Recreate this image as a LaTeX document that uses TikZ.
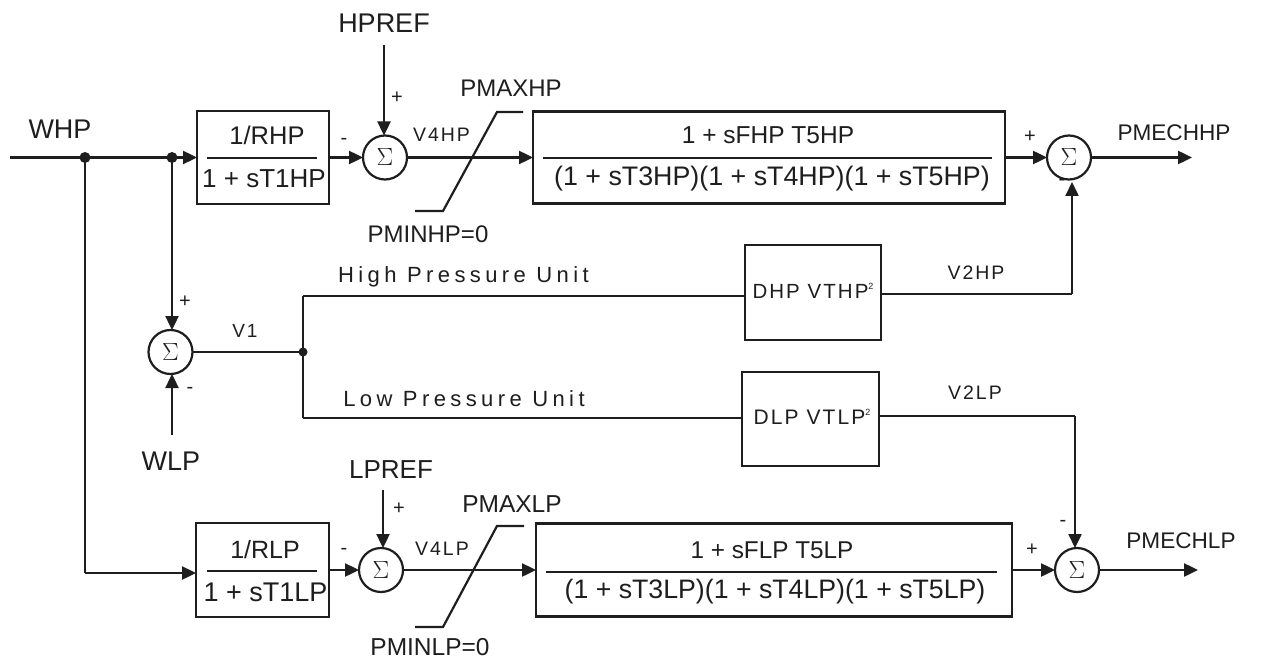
\documentclass[tikz,border=0pt]{standalone}
\usepackage{fontspec}
\setmainfont{Liberation Sans}
\newfontfamily\spc[LetterSpace=20]{Liberation Sans}
\newfontfamily\spb[LetterSpace=10]{Liberation Sans}
\usetikzlibrary{arrows.meta}
\definecolor{ink}{HTML}{1E1E1E}
\tikzset{
  x=1pt,y=-1pt,
  wire/.style={draw=ink,line width=2.4pt},
  arr/.style={wire,-{Triangle[length=14pt,width=13pt]}},
  blk/.style={draw=ink,line width=2.4pt,rectangle,inner sep=0pt,outer sep=0pt,fill=white},
  sumnode/.style={draw=ink,line width=2.2pt,circle,inner sep=0pt,outer sep=0pt,minimum size=44pt,font=\fontsize{31}{33}\selectfont,text=ink},
  lbl/.style={inner sep=0pt,text=ink,font=\fontsize{#1}{#1}\selectfont},
  small/.style={inner sep=0pt,text=ink,font=\fontsize{#1}{#1}\spb},
  unitlbl/.style={inner sep=0pt,text=ink,font=\fontsize{22}{24}\spc},
  sign/.style={inner sep=0pt,text=ink,font=\fontsize{20}{22}\selectfont},
  dot/.style={circle,fill=ink,inner sep=0pt,minimum size=11pt},
  sat/.style={draw=ink,line width=2.2pt}
}
\begin{document}
\begin{tikzpicture}
\useasboundingbox (0,0) rectangle (1273,660);
\fill[white] (0,0) rectangle (1273,660);
% high pressure row
\node[blk,minimum width=132pt,minimum height=93pt] (b1) at (263,157.5) {};
\node[sumnode] (s1) at (385,157.5) {$\Sigma$};
\node[blk,minimum width=472pt,minimum height=92pt] (b2) at (769,157.5) {};
\node[sumnode] (s2) at (1069,157.5) {$\Sigma$};
% low pressure row
\node[blk,minimum width=133pt,minimum height=94pt] (b3) at (262.5,570) {};
\node[sumnode] (s3) at (381,570) {$\Sigma$};
\node[blk,minimum width=476pt,minimum height=93pt] (b4) at (774,570) {};
\node[sumnode] (s4) at (1077,570) {$\Sigma$};
% middle
\node[sumnode] (s5) at (170.5,352) {$\Sigma$};
\node[blk,minimum width=136pt,minimum height=95pt] (d1) at (813,292.5) {};
\node[blk,minimum width=137pt,minimum height=94pt] (d2) at (810.5,419) {};
% junctions and free ends
\coordinate (in) at (10,157.5);
\node[dot] (j1) at (85,157.5) {};
\node[dot] (j2) at (172,157.5) {};
\node[dot,minimum size=9pt] (j3) at (303,352) {};
\coordinate (c1) at (303,296);
\coordinate (c2) at (303,418);
\coordinate (c3) at (1072,294);
\coordinate (c4) at (1075,416);
\coordinate (c5) at (85,573);
\coordinate (hpin) at (384,45);
\coordinate (lpin) at (383,490);
\coordinate (wlpin) at (172,435);
\coordinate (o1) at (1192,157.5);
\coordinate (o2) at (1198,570);
\coordinate (hs1) at (415,211);
\coordinate (hs2) at (443,211);
\coordinate (hs3) at (497,112);
\coordinate (hs4) at (523,112);
\coordinate (ls1) at (415,627);
\coordinate (ls2) at (443,627);
\coordinate (ls3) at (497,526);
\coordinate (ls4) at (524,526);
% wires
\draw[arr] (in) -- (b1.west);
\draw[wire] (j1.center) -- (c5);
\draw[arr] (c5) -- (b3.west |- c5);
\draw[arr] (j2.center) -- (s5.north -| j2);
\draw[arr] (b1.east) -- (s1.west);
\draw[arr] (hpin) -- (s1.north -| hpin);
\draw[arr] (s1.east) -- (b2.west);
\draw[arr] (b2.east) -- (s2.west);
\draw[arr] (s2.east) -- (o1);
\draw[arr] (b3.east) -- (s3.west);
\draw[arr] (lpin) -- (s3.north -| lpin);
\draw[arr] (s3.east) -- (b4.west);
\draw[arr] (b4.east) -- (s4.west);
\draw[arr] (s4.east) -- (o2);
\draw[arr] (wlpin) -- (s5.south -| wlpin);
\draw[wire] (s5.east) -- (j3.center);
\draw[wire] (c1) -- (c2);
\draw[wire] (c1) -- (d1.west |- c1);
\draw[wire] (c2) -- (d2.west |- c2);
\draw[wire] (d1.east |- c3) -- (c3);
\draw[arr] (c3) -- (c3 |- 0,182);
\draw[wire] (d2.east |- c4) -- (c4);
\draw[arr] (c4) -- (c4 |- 0,548);
% limiters
\draw[sat] (hs1) -- (hs2) -- (hs3) -- (hs4);
\draw[sat] (ls1) -- (ls2) -- (ls3) -- (ls4);
% fractions
\node[lbl=25.5] (t1) at (267,135) {1/RHP};
\node[lbl=26] (t2) at (264,179) {1 + sT1HP};
\coordinate (r1a) at (207,158); \coordinate (r1b) at (317,158);
\draw[wire] (r1a) -- (r1b);
\node[lbl=24.5] (t3) at (768,135) {1 + sFHP T5HP};
\node[lbl=26.8] (t4) at (772,179) {(1 + sT3HP)(1 + sT4HP)(1 + sT5HP)};
\coordinate (r2a) at (543,158); \coordinate (r2b) at (992,158);
\draw[wire] (r2a) -- (r2b);
\node[lbl=25] (t5) at (265,550) {1/RLP};
\node[lbl=27] (t6) at (265.5,592) {1 + sT1LP};
\coordinate (r3a) at (207,571); \coordinate (r3b) at (317,571);
\draw[wire] (r3a) -- (r3b);
\node[lbl=24.3] (t7) at (772,550) {1 + sFLP T5LP};
\node[lbl=26.7] (t8) at (775,592) {(1 + sT3LP)(1 + sT4LP)(1 + sT5LP)};
\coordinate (r4a) at (546,572); \coordinate (r4b) at (997,572);
\draw[wire] (r4a) -- (r4b);
\node[small=20.5] (t9) at (813,291) {DHP VTHP\raisebox{9pt}{\fontsize{9}{10}\selectfont 2}};
\node[small=21] (t10) at (812,417) {DLP VTLP\raisebox{9pt}{\fontsize{9}{10}\selectfont 2}};
% labels
\node[lbl=27] (l1) at (60,129) {WHP};
\node[lbl=27] (l2) at (384,23) {HPREF};
\node[lbl=24] (l3) at (511,88) {PMAXHP};
\node[lbl=24] (l4) at (428,234) {PMINHP=0};
\node[lbl=22.6] (l5) at (1174,133) {PMECHHP};
\node[lbl=27] (l6) at (171,461) {WLP};
\node[lbl=26] (l7) at (391,470) {LPREF};
\node[lbl=24.5] (l8) at (512,504) {PMAXLP};
\node[lbl=24.5] (l9) at (430,647) {PMINLP=0};
\node[lbl=22.6] (l10) at (1181,541) {PMECHLP};
\node[small=19.5] (l11) at (441.5,135) {V4HP};
\node[small=19.5] (l12) at (442,549) {V4LP};
\node[small=19] (l13) at (245,331) {V1};
\node[small=19.5] (l14) at (976,273) {V2HP};
\node[small=19.5] (l15) at (975,393) {V2LP};
\node[unitlbl] (l16) at (463.5,277) {High Pressure Unit};
\node[unitlbl] (l17) at (464,399) {Low Pressure Unit};
% signs
\node[sign] (g1) at (397,98) {+};
\node[sign] (g2) at (344,141) {-};
\node[sign] (g3) at (1030,137) {+};
\node[sign] (g4) at (1062,182) {-};
\node[sign] (g5) at (185,302) {+};
\node[sign] (g6) at (190,390) {-};
\node[sign] (g7) at (399,509) {+};
\node[sign] (g8) at (344,551) {-};
\node[sign] (g9) at (1032,550) {+};
\node[sign] (g10) at (1063,523) {-};
\end{tikzpicture}
\end{document}
